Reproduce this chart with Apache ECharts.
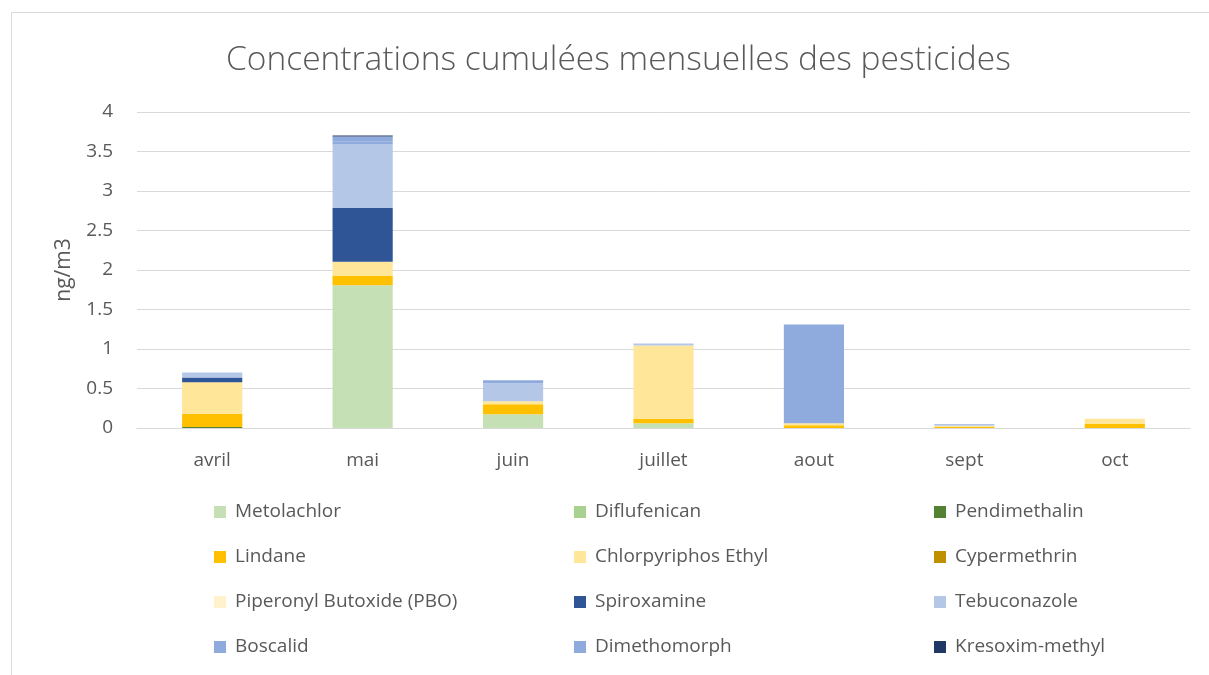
<!DOCTYPE html>
<html>
<head>
<meta charset="utf-8">
<script src="https://cdn.jsdelivr.net/npm/echarts@6/dist/echarts.min.js"></script>
<style>
html,body{margin:0;padding:0;background:#fff;}
#c{width:1209px;height:675px;}
</style>
</head>
<body>
<div id="c"></div>
<script>
const months = ['avril','mai','juin','juillet','aout','sept','oct'];
const seriesNames = ['Metolachlor','Diflufenican','Pendimethalin','Lindane','Chlorpyriphos Ethyl','Cypermethrin','Piperonyl Butoxide (PBO)','Spiroxamine','Tebuconazole','Boscalid','Dimethomorph','Kresoxim-methyl'];
const seriesColors = ['#C5E0B4','#A9D18E','#548235','#FFC000','#FFE699','#BF9000','#FFF2CC','#2F5597','#B4C7E7','#8FAADC','#8FAADC','#203864'];
const metolachlor   = [0,     1.806, 0.173, 0.059, 0,     0,     0];
const diflufenican  = [0,     0,     0,     0,     0,     0,     0];
const pendimethalin = [0.012, 0,     0,     0,     0,     0,     0];
const lindane       = [0.169, 0.118, 0.127, 0.055, 0.034, 0.017, 0.050];
const chlorpyriphos = [0.397, 0.180, 0.038, 0.930, 0.025, 0.013, 0.068];
const cypermethrin  = [0,     0,     0,     0,     0,     0,     0];
const pbo           = [0,     0,     0,     0,     0,     0,     0];
const spiroxamine   = [0.060, 0.680, 0,     0,     0,     0,     0];
const tebuconazole  = [0.065, 0.810, 0.228, 0.025, 0,     0.021, 0];
const boscalid      = [0,     0.035, 0.038, 0,     0,     0,     0];
const dimethomorph  = [0,     0.060, 0,     0,     1.250, 0,     0];
const kresoxim      = [0,     0.013, 0,     0,     0,     0,     0];
const yTicks = [0, 0.5, 1, 1.5, 2, 2.5, 3, 3.5, 4];

const values = [metolachlor, diflufenican, pendimethalin, lindane, chlorpyriphos, cypermethrin, pbo, spiroxamine, tebuconazole, boscalid, dimethomorph, kresoxim];
const FONT = '"Open Sans", sans-serif';
const chart = echarts.init(document.getElementById('c'), null, {renderer:'canvas'});
chart.setOption({
  animation: false,
  backgroundColor: '#fff',
  title: {
    text: 'Concentrations cumulées mensuelles des pesticides',
    left: 221, top: 38,
    textStyle: {fontFamily: FONT, fontWeight: 300, fontSize: 33.5, color: '#595959'}
  },
  graphic: [{
    type: 'rect', silent: true,
    shape: {x: 11.5, y: 12.5, width: 1400, height: 900},
    style: {fill: 'none', stroke: '#D9D9D9', lineWidth: 1}
  }],
  legend: {
    left: 209, top: 491, width: 1100,
    orient: 'horizontal',
    itemWidth: 12, itemHeight: 12, itemGap: 13,
    icon: 'rect',
    data: seriesNames,
    textStyle: {fontFamily: FONT, fontSize: 19, color: '#595959', width: 326, lineHeight: 32, padding: [0,0,0,4]}
  },
  grid: {left: 137, right: 19, top: 112, bottom: 247},
  xAxis: {
    type: 'category', data: months,
    axisLine: {lineStyle: {color: '#D9D9D9', width: 1}},
    axisTick: {show: false},
    axisLabel: {fontFamily: FONT, fontSize: 19, color: '#595959', margin: 23}
  },
  yAxis: {
    type: 'value', min: yTicks[0], max: yTicks[yTicks.length-1], interval: 0.5,
    name: 'ng/m3', nameLocation: 'middle', nameGap: 62, nameRotate: 90,
    nameTextStyle: {fontFamily: FONT, fontSize: 21, color: '#595959'},
    axisLine: {show: false}, axisTick: {show: false},
    splitLine: {lineStyle: {color: '#D9D9D9', width: 1}},
    axisLabel: {fontFamily: FONT, fontSize: 19, color: '#595959', margin: 24}
  },
  series: seriesNames.map((n, i) => ({
    name: n, type: 'bar', stack: 'total', data: values[i],
    barWidth: '40%',
    itemStyle: {color: seriesColors[i]},
    emphasis: {disabled: true}
  }))
});
</script>
</body>
</html>
